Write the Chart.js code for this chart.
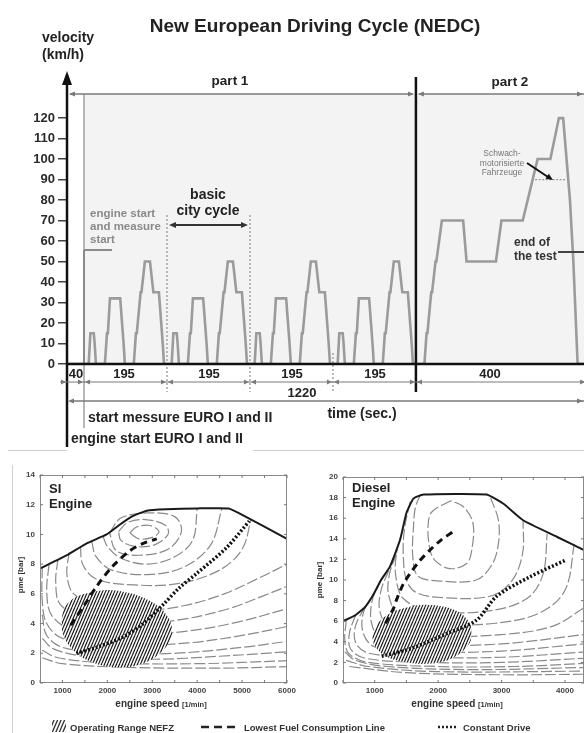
<!DOCTYPE html>
<html><head><meta charset="utf-8">
<script src="https://cdn.jsdelivr.net/npm/chart.js@4.4.1/dist/chart.umd.min.js"></script>
<style>
html,body{margin:0;padding:0;background:#fff;}
#wrap{position:relative;width:584px;height:733px;overflow:hidden;background:#fff;}
canvas{position:absolute;}
</style></head><body>
<div id="wrap">
<canvas id="top" width="584" height="455" style="left:0;top:0"></canvas>
<canvas id="si" width="584" height="273" style="left:0;top:460px"></canvas>
<canvas id="di" width="294" height="273" style="left:290px;top:460px"></canvas>
</div>
<script>
// ================= DATA =================
// NEDC velocity profile (time in s, speed in km/h)
const ECE_TIME  = [0,11,15,23,25,28,49,54,56,61,85,93,96,117,122,124,133,135,143,155,163,176,185,188,195];
const ECE_SPEED = [0, 0,15,15,10, 0, 0,15,15,32,32,10, 0,  0, 15, 15, 35, 35, 50, 50, 35, 35, 10,  0,  0];
const ECE_STARTS = [40,235,430,625];
const EUDC_TIME  = [0,20,25,27,36,38,46,48,61,111,119,188,201,251,286,316,336,346,362,370,380,400];
const EUDC_SPEED = [0, 0,15,15,35,35,50,50,70, 70, 50, 50, 70, 70,100,100,120,120, 80, 50,  0,  0];
const EUDC_START = 820;
const VELOCITY_TICKS = [0,10,20,30,40,50,60,70,80,90,100,110,120];
const SEGMENT_BOUNDS = [0,40,235,430,625,820,1220];
const SEGMENT_LABELS = ['40','195','195','195','195','400'];
const TOTAL_LABEL = '1220';
const WEAK_VEHICLE_SPEED = 90;
const WEAK_VEHICLE_RANGE = [1100,1172];

// SI engine map (rpm, bar)
const SI_X_TICKS = [500,1000,1500,2000,2500,3000,3500,4000,4500,5000,5500,6000];
const SI_Y_TICKS = [0,2,4,6,8,10,12,14];
const SI_FULL_LOAD = [[500,7.7],[1100,8.6],[1540,9.4],[1985,10.0],[2250,10.6],[2540,11.2],[2880,11.6],[3300,11.7],[4000,11.75],[4700,11.75],[4950,11.4],[6000,9.7]];
const SI_BEST_LINE = [[1185,3.9],[1500,5.3],[1760,6.5],[2100,7.8],[2500,8.9],[2800,9.4],[3100,9.7]];
const SI_CONST_DRIVE = [[1310,2.0],[1760,2.4],[2350,3.1],[2760,3.9],[3250,5.3],[3600,6.4],[4000,7.4],[4650,9.1],[5160,10.9]];
const SI_RANGE_UPPER = [[980,4.3],[1050,5.1],[1300,5.8],[1700,6.15],[2100,6.25],[2500,6.05],[2900,5.6],[3200,5.0],[3380,4.3],[3440,3.7]];
const SI_RANGE_LOWER = [[980,4.3],[1000,3.4],[1150,2.5],[1450,1.7],[1800,1.25],[2200,1.05],[2600,1.15],[3000,1.6],[3300,2.4],[3440,3.2],[3440,3.7]];
const SI_CONTOURS = [
 [[2500,10.1],[2650,10.5],[2950,10.6],[3150,10.2],[3000,9.8],[2700,9.7],[2500,10.1]],
 [[2250,10.2],[2450,10.8],[2850,11.0],[3300,10.6],[3350,10.0],[3050,9.3],[2600,9.2],[2300,9.6],[2250,10.2]],
 [[2050,10.1],[2300,11.1],[2900,11.45],[3500,11.2],[3650,10.2],[3350,9.0],[2700,8.6],[2200,8.9],[2050,10.1]],
 [[1900,9.9],[2000,9.2],[2300,8.4],[2900,8.0],[3500,8.5],[3900,9.6],[4000,11.75]],
 [[1650,9.55],[1750,8.5],[2100,7.6],[2900,7.3],[3700,7.8],[4300,9.3],[4550,11.75]],
 [[1400,9.2],[1450,8.0],[1750,7.0],[2600,6.6],[3600,6.7],[4500,7.6],[5000,9.0],[5200,11.0]],
 [[1150,8.8],[1100,7.3],[1250,6.0],[1800,5.3],[2800,4.9],[3700,5.2],[4600,6.0],[5400,7.1],[6000,8.0]],
 [[900,8.35],[850,6.8],[950,5.3],[1500,4.4],[2600,4.0],[3700,4.3],[4700,5.0],[5500,5.9],[6000,6.5]],
 [[700,7.95],[650,6.2],[750,4.6],[1200,3.6],[2400,3.2],[3800,3.5],[4900,4.1],[6000,5.0]],
 [[550,7.8],[550,5.5],[650,4.0],[1000,3.0],[2200,2.5],[3800,2.7],[5000,3.2],[6000,3.8]],
 [[550,4.6],[650,3.2],[1000,2.4],[2000,2.0],[3500,2.0],[5000,2.4],[6000,2.8]],
 [[550,3.0],[800,2.3],[1500,1.8],[3000,1.6],[4500,1.8],[6000,2.1]],
 [[550,2.2],[900,1.7],[2000,1.35],[4000,1.3],[6000,1.5]],
 [[550,1.7],[1000,1.3],[2500,1.05],[4500,1.0],[6000,1.1]]
];

// Diesel engine map (rpm, bar)
const DI_X_TICKS = [500,1000,1500,2000,2500,3000,3500,4000];
const DI_Y_TICKS = [0,2,4,6,8,10,12,14,16,18,20];
const DI_FULL_LOAD = [[500,6.0],[700,6.6],[850,7.4],[980,8.6],[1100,10.0],[1240,11.3],[1400,13.9],[1500,16.5],[1610,17.9],[1770,18.3],[2760,18.3],[3030,17.4],[3340,15.8],[3870,14.2],[4300,12.9]];
const DI_BEST_LINE = [[1170,5.8],[1300,7.3],[1345,8.1],[1450,9.6],[1555,10.6],[1700,11.8],[1870,12.9],[2050,13.9],[2260,14.8]];
const DI_CONST_DRIVE = [[1110,2.6],[1550,3.3],[2136,4.8],[2605,6.1],[2920,8.4],[3445,10.3],[4000,11.9]];
const DI_RANGE_UPPER = [[960,4.5],[1050,5.8],[1250,6.8],[1550,7.4],[1800,7.6],[2100,7.4],[2350,6.8],[2500,5.8],[2530,4.8]];
const DI_RANGE_LOWER = [[960,4.5],[1000,3.6],[1150,2.7],[1400,2.1],[1750,1.85],[2100,2.1],[2350,2.9],[2500,3.9],[2530,4.8]];
const DI_CONTOURS = [
 [[2200,17.7],[1900,16.6],[1840,15.2],[1870,13.0],[1950,11.9],[2185,11.1],[2450,11.6],[2530,12.9],[2550,15.5],[2400,17.1],[2200,17.7]],
 [[1720,18.3],[1640,17.0],[1610,15.0],[1600,12.3],[1680,10.4],[2030,9.9],[2600,10.0],[2850,11.5],[2950,13.5],[2950,15.8],[2820,18.1]],
 [[1560,17.6],[1470,15.0],[1450,12.5],[1500,10.0],[1650,8.8],[2030,8.3],[2800,8.4],[3150,9.8],[3330,12.5],[3340,15.7]],
 [[1450,15.0],[1350,12.8],[1330,10.5],[1450,8.2],[1900,7.0],[2800,7.0],[3400,8.2],[3650,10.5],[3720,14.5]],
 [[1340,12.5],[1230,10.5],[1220,8.5],[1400,6.5],[2000,5.7],[2900,5.8],[3600,6.8],[4000,9.0],[4150,13.6]],
 [[1220,10.9],[1100,9.0],[1080,7.0],[1250,5.3],[2000,4.6],[3000,4.7],[3800,5.5],[4300,7.3]],
 [[1100,10.0],[960,8.0],[950,5.8],[1100,4.3],[1800,3.7],[3000,3.8],[4300,4.7]],
 [[980,8.6],[820,6.8],[820,4.8],[1000,3.5],[1700,3.0],[3000,3.1],[4300,3.8]],
 [[850,7.4],[700,5.6],[700,3.9],[900,2.9],[1700,2.5],[3000,2.5],[4300,3.0]],
 [[700,6.6],[600,4.8],[620,3.3],[850,2.4],[1800,2.0],[3000,2.0],[4300,2.4]],
 [[550,6.1],[530,4.0],[600,2.8],[900,2.0],[2000,1.6],[3200,1.6],[4300,1.9]],
 [[530,3.0],[700,2.2],[1200,1.6],[2500,1.3],[4300,1.5]],
 [[550,2.2],[900,1.6],[2000,1.1],[4300,1.15]],
 [[600,1.6],[1500,1.0],[3000,0.8],[4300,0.85]]
];

// ================= HELPERS =================
const F = "'Liberation Sans', Arial, Helvetica, sans-serif";
Chart.defaults.font.family = F;
Chart.defaults.animation = false;

function ln(ctx,x1,y1,x2,y2,color,w,dash){
  ctx.save(); ctx.strokeStyle=color; ctx.lineWidth=w; ctx.setLineDash(dash||[]);
  ctx.beginPath(); ctx.moveTo(x1,y1); ctx.lineTo(x2,y2); ctx.stroke(); ctx.restore();
}
function head(ctx,x,y,ang,len,half,color){
  ctx.save(); ctx.fillStyle=color; ctx.beginPath(); ctx.moveTo(x,y);
  const c=Math.cos(ang), s=Math.sin(ang);
  ctx.lineTo(x-len*c+half*s, y-len*s-half*c);
  ctx.lineTo(x-len*c-half*s, y-len*s+half*c);
  ctx.closePath(); ctx.fill(); ctx.restore();
}
function txt(ctx,s,x,y,font,color,align){
  ctx.save(); ctx.font=font; ctx.fillStyle=color; ctx.textAlign=align||'left'; ctx.textBaseline='alphabetic';
  ctx.fillText(s,x,y); ctx.restore();
}
const pts = a => a.map(p=>({x:p[0],y:p[1]}));

function makeHatch(){
  const c=document.createElement('canvas'); c.width=3; c.height=7;
  const g=c.getContext('2d'); g.fillStyle='#fff'; g.fillRect(0,0,3,7);
  g.strokeStyle='#1a1a1a'; g.lineWidth=1.2;
  for(let k=-1;k<=1;k++){ g.beginPath(); g.moveTo(k*3,7); g.lineTo(k*3+3,0); g.stroke(); }
  return g.createPattern(c,'repeat');
}
const HATCH = makeHatch();

// ================= TOP CHART =================
const velocity=[{x:0,y:0}];
ECE_STARTS.forEach(s=>ECE_TIME.forEach((t,i)=>velocity.push({x:s+t,y:ECE_SPEED[i]})));
EUDC_TIME.forEach((t,i)=>velocity.push({x:EUDC_START+t,y:EUDC_SPEED[i]}));

const topPlugin = {
  id:'topAnno',
  beforeDatasetsDraw(chart){
    const {ctx, scales:{x,y}} = chart; const X=v=>x.getPixelForValue(v), Y=v=>y.getPixelForValue(v);
    ctx.save(); ctx.fillStyle='#f3f3f3';
    ctx.fillRect(X(ECE_STARTS[0]), 94, chart.width-X(ECE_STARTS[0]), Y(0)-94); ctx.restore();
    ln(ctx,X(ECE_STARTS[1]),215,X(ECE_STARTS[1]),392,'#aaaaaa',1.6,[2,2]);
    ln(ctx,X(ECE_STARTS[2]),215,X(ECE_STARTS[2]),392,'#aaaaaa',1.6,[2,2]);
    ln(ctx,X(ECE_STARTS[3]),353,X(ECE_STARTS[3]),392,'#aaaaaa',1.6,[2,2]);
    ln(ctx,X(ECE_STARTS[0]),94,X(ECE_STARTS[0]),428,'#a0a0a0',1.5);
    ln(ctx,X(ECE_STARTS[0]),250,X(ECE_STARTS[0]),364,'#8a8a8a',2);
    ln(ctx,X(ECE_STARTS[0]),250,112,250,'#8a8a8a',2);
    ln(ctx,X(WEAK_VEHICLE_RANGE[0]),Y(WEAK_VEHICLE_SPEED),X(WEAK_VEHICLE_RANGE[1]),Y(WEAK_VEHICLE_SPEED),'#999',1.2,[2,1.5]);
  },
  afterDatasetsDraw(chart){
    const {ctx, scales:{x,y}} = chart; const X=v=>x.getPixelForValue(v), Y=v=>y.getPixelForValue(v);
    const y0=Y(0), x0=X(0), W=chart.width;
    ln(ctx,x0,y0,W,y0,'#111',2.5);
    ln(ctx,x0,447,x0,84,'#111',2.5);
    head(ctx,x0,71,-Math.PI/2,14,5,'#111');
    ln(ctx,X(EUDC_START),77,X(EUDC_START),392,'#111',2.5);
    txt(ctx,'New European Driving Cycle (NEDC)',315,32,'bold 19px '+F,'#222','center');
    txt(ctx,'velocity',42,42,'bold 14px '+F,'#222');
    txt(ctx,'(km/h)',42,59,'bold 14px '+F,'#222');
    const g='#7a7a7a';
    txt(ctx,'part 1',230,85,'bold 13.5px '+F,'#222','center');
    txt(ctx,'part 2',510,86,'bold 13.5px '+F,'#222','center');
    ln(ctx,x0+3,94,X(EUDC_START)-3,94,g,1.5);
    head(ctx,x0+2,94,Math.PI,6,2.5,g); head(ctx,X(EUDC_START)-2,94,0,6,2.5,g);
    ln(ctx,X(EUDC_START)+3,94,W,94,g,1.5);
    head(ctx,X(EUDC_START)+2,94,Math.PI,6,2.5,g); head(ctx,W-1,94,0,6,2.5,g);
    const ga='#8a8a8a';
    txt(ctx,'engine start',90,217,'bold 11.5px '+F,ga);
    txt(ctx,'and measure',90,230,'bold 11.5px '+F,ga);
    txt(ctx,'start',90,243,'bold 11.5px '+F,ga);
    txt(ctx,'basic',208,199,'bold 14px '+F,'#222','center');
    txt(ctx,'city cycle',208,215,'bold 14px '+F,'#222','center');
    const bx1=X(ECE_STARTS[1])+2, bx2=X(ECE_STARTS[2])-2;
    ln(ctx,bx1+3,225,bx2-3,225,'#333',2);
    head(ctx,bx1,225,Math.PI,7,3,'#333'); head(ctx,bx2,225,0,7,3,'#333');
    txt(ctx,'Schwach-',502,156,'8.5px '+F,'#777','center');
    txt(ctx,'motorisierte',502,165.5,'8.5px '+F,'#777','center');
    txt(ctx,'Fahrzeuge',502,175,'8.5px '+F,'#777','center');
    ln(ctx,527,163,548,177,'#111',2);
    head(ctx,553,180,Math.atan2(17,26),7,3,'#111');
    txt(ctx,'end of',514,246,'bold 12px '+F,'#333');
    txt(ctx,'the test',514,260,'bold 12px '+F,'#333');
    ln(ctx,558,252,W,252,'#444',2);
    const dy=382;
    ln(ctx,60,dy,W,dy,g,1.2);
    SEGMENT_BOUNDS.forEach((b,i)=>{
      const px=X(b);
      if(i>0) head(ctx,px-1,dy,0,5,2.5,g);
      if(i<SEGMENT_BOUNDS.length-1 && i>0) head(ctx,px+1,dy,Math.PI,5,2.5,g);
    });
    head(ctx,x0-1,dy,0,5,2.5,g);
    const segCenters=[76,124,209,292,375,490];
    SEGMENT_LABELS.forEach((s,i)=>txt(ctx,s,segCenters[i],378,'bold 13px '+F,'#222','center'));
    ln(ctx,x0+3,401,W,401,g,1.5);
    head(ctx,x0+1,401,Math.PI,6,2.5,g); head(ctx,W-1,401,0,6,2.5,g);
    txt(ctx,TOTAL_LABEL,302,397,'bold 13px '+F,'#222','center');
    txt(ctx,'time (sec.)',362,418,'bold 14px '+F,'#222','center');
    txt(ctx,'start messure EURO I and II',88,422,'bold 14px '+F,'#222');
    txt(ctx,'engine start EURO I and II',71,443,'bold 14px '+F,'#222');
    ln(ctx,8,450.5,67,450.5,'#d0d0d0',1);
    ln(ctx,253,450.5,W,450.5,'#d0d0d0',1);
  }
};

new Chart(document.getElementById('top'),{
  type:'line',
  data:{datasets:[{data:velocity,borderColor:'#9b9b9b',borderWidth:2.6,pointRadius:0,tension:0,fill:false}]},
  options:{responsive:false,animation:false,events:[],
    layout:{padding:{left:0,top:73,right:0,bottom:91}},
    plugins:{legend:{display:false},tooltip:{enabled:false}},
    scales:{
      x:{type:'linear',display:false,min:0,max:1215},
      y:{type:'linear',min:0,max:142,
         afterFit(s){s.width=67;},
         afterBuildTicks(s){s.ticks=VELOCITY_TICKS.map(v=>({value:v}));},
         border:{display:false},
         grid:{drawOnChartArea:false,drawTicks:true,tickLength:9,color:'#444',lineWidth:1.5},
         ticks:{font:{size:13,weight:'bold'},color:'#2a2a2a',padding:3}}
    }
  },
  plugins:[topPlugin]
});

// ================= ENGINE MAPS =================
function mapChart(id,o){
  const ds=[];
  o.contours.forEach(c=>ds.push({data:pts(c),borderColor:'#8a8a8a',borderWidth:1.2,borderDash:[11,3],pointRadius:0,tension:0.35,fill:false,order:10}));
  ds.push({data:pts(o.rangeUpper),borderWidth:0,borderColor:'rgba(0,0,0,0)',pointRadius:0,tension:0.3,fill:false,order:5});
  ds.push({data:pts(o.rangeLower),borderWidth:0,borderColor:'rgba(0,0,0,0)',pointRadius:0,tension:0.3,fill:'-1',backgroundColor:HATCH,order:4});
  ds.push({data:pts(o.best),borderColor:'#111',borderWidth:3,borderDash:[7,5],pointRadius:0,tension:0.3,fill:false,order:2});
  ds.push({data:pts(o.drive),borderColor:'#111',borderWidth:3.5,borderDash:[2,2],pointRadius:0,tension:0.3,fill:false,order:2});
  ds.push({data:pts(o.full),borderColor:'#1a1a1a',borderWidth:2,pointRadius:0,tension:0.15,fill:false,order:1});
  const plug={
    id:'mapAnno'+id,
    afterDatasetsDraw(chart){
      const {ctx,chartArea:a,scales:{x,y}}=chart;
      ctx.save(); ctx.strokeStyle='#8a8a8a'; ctx.lineWidth=1;
      ctx.strokeRect(a.left+0.5,a.top+0.5,a.right-a.left-1,a.bottom-a.top-1); ctx.restore();
      o.xticks.forEach(v=>{const px=x.getPixelForValue(v); ln(ctx,px,a.top,px,a.top+3,'#777',1); ln(ctx,px,a.bottom,px,a.bottom-3,'#777',1);});
      o.yticks.forEach(v=>{const py=y.getPixelForValue(v); ln(ctx,a.left,py,a.left+3,py,'#777',1); ln(ctx,a.right,py,a.right-3,py,'#777',1);});
      o.draw(ctx,chart);
    }
  };
  return new Chart(document.getElementById(id),{
    type:'line',data:{datasets:ds},
    options:{responsive:false,animation:false,events:[],
      layout:{padding:o.padding},
      plugins:{legend:{display:false},tooltip:{enabled:false},filler:{propagate:false}},
      scales:{
        x:{type:'linear',min:500,max:o.xmax,afterFit(s){s.height=50;},
           afterBuildTicks(s){s.ticks=o.xticks.map(v=>({value:v}));},
           grid:{display:false,drawTicks:false},border:{display:false},
           ticks:{autoSkip:false,maxRotation:0,padding:3,font:{size:8,weight:'bold'},color:'#444',
                  callback:v=>(v%1000===0?String(v):'')}},
        y:{type:'linear',min:0,max:o.ymax,afterFit(s){s.width=o.yw;},
           afterBuildTicks(s){s.ticks=o.yticks.map(v=>({value:v}));},
           grid:{display:false,drawTicks:false},border:{display:false},
           ticks:{padding:5,font:{size:8,weight:'bold'},color:'#444'}}
      }
    },
    plugins:[plug]
  });
}

function pmeLabel(ctx,x,y){
  ctx.save(); ctx.translate(x,y); ctx.rotate(-Math.PI/2);
  ctx.font='bold 8px '+F; ctx.fillStyle='#333'; ctx.textAlign='center'; ctx.fillText('pme [bar]',0,3); ctx.restore();
}
function speedLabel(ctx,cx,y){
  ctx.save(); ctx.font='bold 10px '+F; const w1=ctx.measureText('engine speed ').width;
  ctx.font='bold 7.5px '+F; const w2=ctx.measureText('[1/min]').width;
  const x0=cx-(w1+w2)/2;
  txt(ctx,'engine speed ',x0,y,'bold 10px '+F,'#333');
  txt(ctx,'[1/min]',x0+w1,y,'bold 7.5px '+F,'#333');
  ctx.restore();
}

mapChart('si',{
  contours:SI_CONTOURS,rangeUpper:SI_RANGE_UPPER,rangeLower:SI_RANGE_LOWER,
  best:SI_BEST_LINE,drive:SI_CONST_DRIVE,full:SI_FULL_LOAD,
  xticks:SI_X_TICKS,yticks:SI_Y_TICKS,xmax:6000,ymax:14,yw:40,
  padding:{left:0,top:15,right:297,bottom:0},
  draw(ctx){
    const o=-460;
    txt(ctx,'SI',49,493+o,'bold 13px '+F,'#222');
    txt(ctx,'Engine',49,508+o,'bold 13px '+F,'#222');
    pmeLabel(ctx,20,575+o);
    speedLabel(ctx,161,707+o);
    ln(ctx,12.5,465+o,12.5,273,'#d0d0d0',1);
    const ly=727+o;
    ctx.save(); ctx.beginPath(); ctx.rect(52,ly-7,14,12); ctx.clip();
    for(let k=-2;k<6;k++){ ln(ctx,52+k*3.5,ly+6,52+k*3.5+6,ly-8,'#333',1.3); }
    ctx.restore();
    txt(ctx,'Operating Range NEFZ',70,ly+4,'bold 9.5px '+F,'#333');
    ln(ctx,201,ly,235,ly,'#222',2.5,[8,5]);
    txt(ctx,'Lowest Fuel Consumption Line',244,ly+4,'bold 9.5px '+F,'#333');
    ln(ctx,438,ly,457,ly,'#222',2.5,[2,2]);
    txt(ctx,'Constant Drive',463,ly+4,'bold 9.5px '+F,'#333');
  }
});

mapChart('di',{
  contours:DI_CONTOURS,rangeUpper:DI_RANGE_UPPER,rangeLower:DI_RANGE_LOWER,
  best:DI_BEST_LINE,drive:DI_CONST_DRIVE,full:DI_FULL_LOAD,
  xticks:DI_X_TICKS,yticks:DI_Y_TICKS,xmax:4300,ymax:20,yw:53,
  padding:{left:0,top:17,right:0,bottom:0},
  draw(ctx){
    const ox=-290, oy=-460;
    txt(ctx,'Diesel',352+ox,492+oy,'bold 13px '+F,'#222');
    txt(ctx,'Engine',352+ox,507+oy,'bold 13px '+F,'#222');
    pmeLabel(ctx,319+ox,580+oy);
    speedLabel(ctx,457+ox,707+oy);
  }
});
</script>
</body></html>
